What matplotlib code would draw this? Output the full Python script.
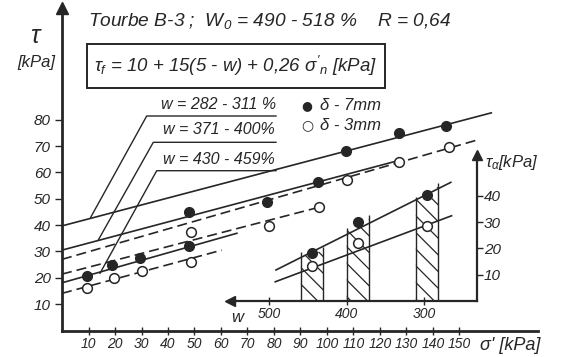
import matplotlib
matplotlib.use('Agg')
import matplotlib.pyplot as plt
from matplotlib.patches import Rectangle

plt.rcParams['font.family'] = ['Liberation Sans', 'DejaVu Sans']
plt.rcParams['font.style'] = 'italic'
plt.rcParams['mathtext.fontset'] = 'custom'
plt.rcParams['mathtext.rm'] = 'Liberation Sans:italic'
plt.rcParams['mathtext.it'] = 'Liberation Sans:italic'
plt.rcParams['mathtext.sf'] = 'Liberation Sans:italic'
plt.rcParams['hatch.linewidth'] = 0.9

INK = '#262626'

# main plot: sigma' [kPa] -> tau [kPa], delta = 7 mm (filled) / 3 mm (open)
sig_7_282 = [107, 127, 145]
tau_7_282 = [68.3, 74.9, 77.7]
sig_3_282 = [107.5, 127, 146]
tau_3_282 = [57.2, 63.8, 69.5]
sig_7_371 = [48, 77.5, 96.5]
tau_7_371 = [44.8, 48.7, 56.4]
sig_3_371 = [48.5, 78, 97]
tau_3_371 = [37.3, 39.7, 46.8]
sig_7_430 = [9.5, 19, 29.5, 48]
tau_7_430 = [20.5, 24.8, 27.7, 32.2]
sig_3_430 = [9.5, 19.5, 30, 48.5]
tau_3_430 = [16.3, 20.1, 22.6, 25.9]

# fitted lines, end points (sigma', tau)
fit_7_282 = ([0, 162], [39.7, 82.6])
fit_3_282 = ([0, 156.7], [27.0, 72.3])
fit_7_371 = ([0, 126.6], [30.5, 64.4])
fit_3_371 = ([0, 99], [21.4, 47.3])
fit_7_430 = ([0, 66], [18.1, 36.9])
fit_3_430 = ([0, 60.3], [14.1, 30.5])

x_ticks = [10, 20, 30, 40, 50, 60, 70, 80, 90, 100, 110, 120, 130, 140, 150]
y_ticks = [10, 20, 30, 40, 50, 60, 70, 80]

# inset: w [%] -> tau_alpha [kPa]
w_mid = [445, 385, 297]
tau_a_7 = [18.1, 30.2, 40.3]
tau_a_3 = [13.3, 21.9, 28.6]
w_bands = [(459, 430), (400, 371), (311, 282)]
band_tops = [(18.7, 20.6), (27.8, 32.7), (39.5, 45.0)]
fit_a_7 = ([491, 266], [11.8, 45.1])
fit_a_3 = ([492, 265], [7.3, 32.4])
w_ticks = [500, 400, 300]
ta_ticks = [10, 20, 30, 40]

W, H = 563, 357


def P(x, y):
    return x / W, 1 - y / H


fig = plt.figure(figsize=(W / 100, H / 100), dpi=100)
fig.patch.set_facecolor('white')

ax = fig.add_axes([62 / W, (H - 330.5) / H, 476 / W, 322.5 / H])
ax.set_xlim(0, 476 / 2.65)
ax.set_ylim(0, 322.5 / 2.635)
ax.patch.set_alpha(0)
for s in ['top', 'right']:
    ax.spines[s].set_visible(False)
for s in ['left', 'bottom']:
    ax.spines[s].set_linewidth(2.0)
    ax.spines[s].set_color(INK)
ax.plot(0, 1, '^', color=INK, ms=8, transform=ax.transAxes, clip_on=False)

ax.set_xticks(x_ticks)
ax.set_xticklabels([str(v) for v in x_ticks])
ax.set_yticks(y_ticks)
ax.set_yticklabels([str(v) for v in y_ticks])
ax.tick_params(axis='x', direction='inout', length=6, width=1, colors=INK,
               labelsize=10, pad=2)
ax.tick_params(axis='y', direction='out', length=5, width=1, colors=INK,
               labelsize=11, pad=3)

dash = (0, (6, 3))
for fx, fy in [fit_7_282, fit_7_371, fit_7_430]:
    ax.plot(fx, fy, color=INK, lw=1.2)
for fx, fy in [fit_3_282, fit_3_371, fit_3_430]:
    ax.plot(fx, fy, color=INK, lw=1.2, linestyle=dash)

for sx, sy in [(sig_7_282, tau_7_282), (sig_7_371, tau_7_371), (sig_7_430, tau_7_430)]:
    ax.plot(sx, sy, 'o', color=INK, ms=7, zorder=5)
for sx, sy in [(sig_3_282, tau_3_282), (sig_3_371, tau_3_371), (sig_3_430, tau_3_430)]:
    ax.plot(sx, sy, 'o', mfc='white', mec=INK, mew=1.1, ms=7, zorder=5)

# inset
ax2 = fig.add_axes([230 / W, (H - 301) / H, 247 / W, 146 / H])
ax2.set_xlim(550.2, 232.3)
ax2.set_ylim(0, 55.5)
ax2.patch.set_alpha(0)
for s in ['top', 'left']:
    ax2.spines[s].set_visible(False)
for s in ['right', 'bottom']:
    ax2.spines[s].set_linewidth(1.6)
    ax2.spines[s].set_color(INK)
ax2.plot(0, 0, '<', color=INK, ms=7, transform=ax2.transAxes, clip_on=False)
ax2.plot(1, 1, '^', color=INK, ms=7, transform=ax2.transAxes, clip_on=False)
ax2.yaxis.tick_right()
ax2.set_xticks(w_ticks)
ax2.set_xticklabels([str(v) for v in w_ticks])
ax2.set_yticks(ta_ticks)
ax2.set_yticklabels([str(v) for v in ta_ticks])
ax2.tick_params(axis='x', direction='inout', length=6, width=1, colors=INK,
                labelsize=10, pad=1)
ax2.tick_params(axis='y', direction='out', length=4, width=1, colors=INK,
                labelsize=11, pad=1)

for (w0, w1), (t0, t1) in zip(w_bands, band_tops):
    ax2.fill([w0, w0, w1, w1], [0, t0 - 1.5, t1 - 1.5, 0], facecolor='none',
             edgecolor=INK, linewidth=0, hatch='\\\\')
    ax2.vlines([w0, w1], 0, [t0, t1], color=INK, lw=1.0)
ax2.plot(fit_a_7[0], fit_a_7[1], color=INK, lw=1.2)
ax2.plot(fit_a_3[0], fit_a_3[1], color=INK, lw=1.2)
ax2.plot(w_mid, tau_a_7, 'o', color=INK, ms=7, zorder=5)
ax2.plot(w_mid, tau_a_3, 'o', mfc='white', mec=INK, mew=1.1, ms=7, zorder=5)

# texts
fig.text(*P(88, 21), 'Tourbe B-3 ;  W$_0$ = 490 - 518 %    R = 0,64',
         fontsize=13.8, color=INK, va='center', ha='left')
fig.add_artist(Rectangle(P(87, 88), 298 / W, 44 / H, transform=fig.transFigure,
                         fill=False, edgecolor=INK, lw=1.4))
fig.text(*P(236, 66), r"$\tau_f$ = 10 + 15(5 - w) + 0,26 $\sigma'_n$ [kPa]",
         fontsize=13.4, color=INK, va='center', ha='center')
fig.text(*P(36, 36), r'$\tau$', fontsize=18, color=INK, ha='center', va='center')
fig.text(*P(36, 62), '[kPa]', fontsize=12, color=INK, ha='center', va='center')
fig.text(*P(510, 345), "σ' [kPa]", fontsize=13, color=INK, ha='center', va='center')
fig.text(*P(512, 163), r'$\tau_\alpha$[kPa]', fontsize=12, color=INK, ha='center', va='center')
fig.text(*P(237, 317), 'w', fontsize=12, color=INK, ha='center', va='center')

fig.text(*P(307, 105.5), '●', fontsize=9, color=INK, ha='center', va='center',
         family='DejaVu Sans')
fig.text(*P(307, 125.5), '○', fontsize=10, color=INK, ha='center', va='center',
         family='DejaVu Sans')
fig.text(*P(320, 105), 'δ - 7mm', fontsize=12, color=INK, ha='left', va='center')
fig.text(*P(320, 125), 'δ - 3mm', fontsize=12, color=INK, ha='left', va='center')

leaders = [
    ('w = 282 - 311 %', (90.7, 217.3), (146.7, 116), (276, 116), 104),
    ('w = 371 - 400%', (98.3, 240), (153.3, 142.3), (276, 142.3), 130),
    ('w = 430 - 459%', (100, 273.3), (156.7, 170.7), (276, 170.7), 159),
]
for label, a, b, c, ty in leaders:
    xs = [P(*a)[0], P(*b)[0], P(*c)[0]]
    ys = [P(*a)[1], P(*b)[1], P(*c)[1]]
    fig.add_artist(plt.Line2D(xs, ys, transform=fig.transFigure, color=INK, lw=1.0))
    fig.text(*P(219, ty), label, fontsize=11.5, color=INK, ha='center', va='center')

fig.savefig('out.png', dpi=100, facecolor='white')
